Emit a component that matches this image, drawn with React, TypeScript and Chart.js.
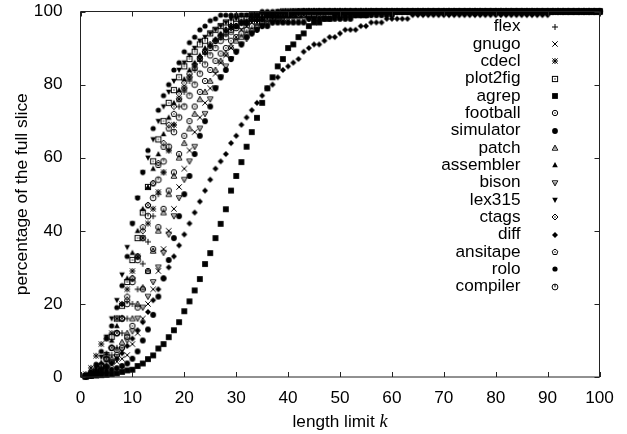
import React, { useEffect, useRef } from "react";
import { Chart, registerables } from "chart.js";

Chart.register(...registerables);

const seriesNames = ["flex", "gnugo", "cdecl", "plot2fig", "agrep", "football", "simulator", "patch", "assembler", "bison", "lex315", "ctags", "diff", "ansitape", "rolo", "compiler"];

const flex = [0.3,0.8,1.6,2.8,4.2,6,8,12,16,20,24,31,37,44,50,56,62,69,74,78,81,84,86.5,88.5,90.5,92,93.5,95,96,96,97,97,98,98,98,99,99,99,99,99,99];
const gnugo = [0.2,0.5,1,1.8,2.6,3.4,4.2,5,6,9,12,16,20,24,29,35,40,46,52,57,62,67,71,75,79,83,86,88,90,93,95,96,97,97,98,98,98,99,99,99,99,99,99];
const cdecl = [0.8,2.5,5.8,9,10.5,12,16,20,24,29,33,38,42,46,50.6,56,62,69,76,79,82,85,87,89,90.5,92,93.3,94.5,95.5,96,97,97,98,98,98,99,99,99,99,99,99];
const plot2fig = [0.2,0.6,1.5,3,6,11,16,19.5,26,32,38,45,52,59,65,70,75,78.5,82,85,87,89,91,92,94,95,96,97,97,98,98,98,99,99,99,99,99,99];
const agrep = [0.2,0.3,0.4,0.5,0.6,0.8,1,1.4,1.8,2,3,3.7,4.9,5.9,7.8,9,10.9,12.8,15,18,20.7,23.7,26.8,30.9,33.9,38,41.9,45.9,51,55,58.8,63,67,70.9,75,79,82,85,87,90,91,93,94,96,97,97,98,98,99,99,99,99,99,99,99];
const football = [0.2,0.5,1,1.8,2.8,4,6,8,11,14,19,24,29,35,41,46,51,56,61,66,70,74,78,81,84,86.5,88.5,90,92,93,94,95,96,97,97,98,98,98,99,99,99,99,99,99,99];
const simulator = [0.1,0.3,0.6,1,1.5,2,2.4,3,3.7,5,7,10,13,17,22,27,32,38,44,50,55,61,66,70,74,79,82,84,87,89,91,93,94,95,96,96,97,97,97,97,97,97,97,98,98,98,98,98,98,98,98,98,99,99,99,99,99,99,99,99];
const patch = [0.2,0.5,1,1.8,3,5,7.5,9.5,12,16,20,24.5,29,34.5,40,45,50,55,60,64,68,72,76,78,81,84,86.5,88.5,90.5,92,93,94,95,96,97,97,98,98,98,99,99,99,99,99,99,99,99];
const assembler = [0.3,0.9,2,4,6.5,10,14,20,27,34,40,46,52,57,61,66.5,71,75,78.5,81.5,84,86,88,90,91,92.5,94,95,96,96,97,97,98,98,98,99,99,99,99,99];
const bison = [0.1,0.4,0.9,1.6,2.6,4,5.5,7.5,10,12.5,16,19,22,26,30,34,39,44,49,54,59,63,68,72,76,79,82,85,87,89,91,92.5,94,95,96,97,97,98,98,98,98,98,98,98,98,99,99,99,99,99,99,99,99,99,99];
const lex315 = [0.3,1,2.5,5.5,11,16,21,28,35.5,42,49,56,60,65,70,74,78,81,84,86,88,90,92,93,94,95,96,97,98,98,99,99,99,99,99,99,99];
const ctags = [0.2,0.7,1.6,3,5,8,12,16,21,27,33,40,47,53,58.5,64,69,74,77.5,80.5,83,85.5,87.5,89,91,92,93.5,95,96,96,97,97,98,98,98,99,99,99,99,99,99];
const diff = [0.3,0.7,1.2,2,2.8,3.8,5,6.5,8.5,10.5,12.8,15,17.8,21,24,27,30,33,36,39,42,45,48,51,54,57,59,61,64,66,69,71,73,75,77,79,80,82,84,85,86,87,89,90,91,91,92,93,93,94,95,95,95,96,96,97,97,97,98,98,98,98,98,99,99,99,99,99,99,99,99,99,99,99,99,99,99,99,99,99,99,99,99,99,99,99,99,99,99,99];
const ansitape = [0.2,0.7,1.5,3,5,8,12,16,22,27,33,41,47,53,58,63,68,72,76,79,82,84.5,87,89,90,92,93,94,95,96,97,97,98,98,99,99,99,99,99,99];
const rolo = [0.5,1.5,3.5,7,10.5,14,19,25,33,42,49,56,62,68,73,77,80,84,86,89,91.5,93,95,96,97.5,98,99,99,99,99,99,99,99,99];
const compiler = [0.3,0.8,1.8,3.2,5,8,12,16,20,26,32,38,44,49,54,59,63,67,71,74,77,80,83,85.5,88,90,92,93,94.5,95.5,96,97,98,98,98,99,99,99,99,99,99,99];

const saturated = [100,100,100,100,100,100,100,100,100,100,100,100,100,100,100,100,100,100,100,100,100,100,100,100,100,100,100,100,100,100,100,100,100,100,100,100,100,100,100,100,100,100,100,100,100,100,100,100,100,100,100,100,100,100,100,100,100,100,100,100,100,100,100,100,100,100,100,100,100,100,100,100,100,100,100,100,100,100,100,100,100,100,100,100,100,100,100,100,100,100,100,100,100,100,100,100,100,100,100,100];

const seriesValues = [flex, gnugo, cdecl, plot2fig, agrep, football, simulator, patch, assembler, bison, lex315, ctags, diff, ansitape, rolo, compiler];
const xTicks = [0, 10, 20, 30, 40, 50, 60, 70, 80, 90, 100];
const yTicks = [0, 20, 40, 60, 80, 100];

const INK = "#000";
const SANS = "'Liberation Sans', Arial, sans-serif";
const TEXT_SIZE = 17.2;

type Draw = (c: CanvasRenderingContext2D) => void;

const poly = (c: CanvasRenderingContext2D, pts: number[][]) => {
  c.beginPath();
  pts.forEach(([x, y], i) => (i ? c.lineTo(x, y) : c.moveTo(x, y)));
  c.closePath();
};
const circle = (c: CanvasRenderingContext2D, r: number) => {
  c.beginPath();
  c.arc(0, 0, r, 0, Math.PI * 2);
};
const tri = [[0, -2.9], [2.8, 2.2], [-2.8, 2.2]];
const triDown = [[0, 2.9], [2.8, -2.2], [-2.8, -2.2]];
const dia = [[0, -3], [3, 0], [0, 3], [-3, 0]];
const pent = [[0, -2.9], [2.8, -0.8], [1.8, 2.5], [-1.8, 2.5], [-2.8, -0.8]];
const dot = (c: CanvasRenderingContext2D) => c.fillRect(-0.6, -0.6, 1.2, 1.2);

const painters: Draw[] = [
  (c) => { c.beginPath(); c.moveTo(-3, 0); c.lineTo(3, 0); c.moveTo(0, -3); c.lineTo(0, 3); c.stroke(); },
  (c) => { c.beginPath(); c.moveTo(-2.7, -2.7); c.lineTo(2.7, 2.7); c.moveTo(-2.7, 2.7); c.lineTo(2.7, -2.7); c.stroke(); },
  (c) => { c.beginPath(); c.moveTo(-2.6, -2.6); c.lineTo(2.6, 2.6); c.moveTo(-2.6, 2.6); c.lineTo(2.6, -2.6); c.moveTo(-3, 0); c.lineTo(3, 0); c.moveTo(0, -3); c.lineTo(0, 3); c.stroke(); },
  (c) => { c.strokeRect(-2.6, -2.6, 5.2, 5.2); dot(c); },
  (c) => { c.fillRect(-2.9, -2.9, 5.8, 5.8); },
  (c) => { circle(c, 2.7); c.stroke(); dot(c); },
  (c) => { circle(c, 2.9); c.fill(); },
  (c) => { poly(c, tri); c.stroke(); dot(c); },
  (c) => { poly(c, tri); c.fill(); },
  (c) => { poly(c, triDown); c.stroke(); dot(c); },
  (c) => { poly(c, triDown); c.fill(); },
  (c) => { poly(c, dia); c.stroke(); dot(c); },
  (c) => { poly(c, dia); c.fill(); },
  (c) => { poly(c, pent); c.stroke(); dot(c); },
  (c) => { circle(c, 2.6); c.fill(); },
  (c) => { circle(c, 2.9); c.stroke(); c.beginPath(); c.moveTo(0, -2.9); c.lineTo(0, 0.3); c.stroke(); },
];

const makeMarker = (paint: Draw) => {
  const cv = document.createElement("canvas");
  cv.width = 10;
  cv.height = 10;
  const c = cv.getContext("2d")!;
  c.translate(5, 5);
  c.fillStyle = INK;
  c.strokeStyle = INK;
  c.lineWidth = 1;
  paint(c);
  return cv;
};

export default function App() {
  const ref = useRef<HTMLCanvasElement>(null);

  useEffect(() => {
    document.body.style.margin = "0";
    const markers = painters.map(makeMarker);

    const frame = {
      id: "frame",
      afterDatasetsDraw(chart: any) {
        const { ctx, chartArea: a, scales } = chart;
        ctx.save();
        ctx.strokeStyle = "#222";
        ctx.lineWidth = 1;
        ctx.beginPath();
        ctx.rect(a.left, a.top, a.right - a.left, a.bottom - a.top);
        xTicks.forEach((t) => {
          const x = Math.round(scales.x.getPixelForValue(t)) + 0.5;
          ctx.moveTo(x, a.bottom);
          ctx.lineTo(x, a.bottom - 5);
          ctx.moveTo(x, a.top);
          ctx.lineTo(x, a.top + 5);
        });
        yTicks.forEach((t) => {
          const y = Math.round(scales.y.getPixelForValue(t)) + 0.5;
          ctx.moveTo(a.left, y);
          ctx.lineTo(a.left + 5, y);
          ctx.moveTo(a.right, y);
          ctx.lineTo(a.right - 5, y);
        });
        ctx.stroke();

        ctx.fillStyle = INK;
        ctx.font = `${TEXT_SIZE}px ${SANS}`;
        ctx.textAlign = "right";
        ctx.textBaseline = "middle";
        seriesNames.forEach((name, i) => {
          const y = 26.5 + i * 17.35;
          ctx.fillText(name, 520.5, y);
          ctx.drawImage(markers[i], 550, Math.round(y) - 5);
        });

        ctx.textAlign = "left";
        ctx.textBaseline = "alphabetic";
        const label = "length limit ";
        const italic = `italic ${TEXT_SIZE + 1}px 'Liberation Serif', serif`;
        ctx.font = `${TEXT_SIZE}px ${SANS}`;
        const w = ctx.measureText(label).width;
        ctx.font = italic;
        const kw = ctx.measureText("k").width;
        const start = 340 - (w + kw) / 2;
        ctx.font = `${TEXT_SIZE}px ${SANS}`;
        ctx.fillText(label, start, 427);
        ctx.font = italic;
        ctx.fillText("k", start + w, 427);
        ctx.restore();
      },
    };

    const chart = new Chart(ref.current!, {
      type: "scatter",
      data: {
        datasets: seriesNames.map((name, i) => ({
          label: name,
          data: saturated.map((full, k) => ({ x: k + 1, y: seriesValues[i][k] ?? full })),
          pointStyle: markers[i],
          pointRadius: 5,
          showLine: false,
          clip: false as any,
        })),
      },
      options: {
        animation: false,
        responsive: false,
        layout: { padding: { top: 11.5, right: 27.5, left: 0, bottom: 0 } },
        plugins: { legend: { display: false }, tooltip: { enabled: false } },
        scales: {
          x: {
            type: "linear",
            min: 0,
            max: 100,
            afterFit: (s: any) => { s.height = 57; s.paddingLeft = 0; s.paddingRight = 0; },
            afterBuildTicks: (s: any) => { s.ticks = xTicks.map((value) => ({ value })); },
            border: { display: false },
            grid: { display: false },
            ticks: { color: INK, font: { family: SANS, size: TEXT_SIZE }, padding: 3, maxRotation: 0, autoSkip: false },
          },
          y: {
            min: 0,
            max: 100,
            afterFit: (s: any) => { s.width = 80.5; s.paddingTop = 0; s.paddingBottom = 0; },
            afterBuildTicks: (s: any) => { s.ticks = yTicks.map((value) => ({ value })); },
            border: { display: false },
            grid: { display: false },
            ticks: { color: INK, font: { family: SANS, size: TEXT_SIZE }, padding: 10, autoSkip: false },
            title: {
              display: true,
              text: "percentage of the full slice",
              color: INK,
              font: { family: SANS, size: 17.4 },
              padding: { top: 12, bottom: 0 },
            },
          },
        },
      },
      plugins: [frame],
    } as any);
    return () => chart.destroy();
  }, []);

  return <canvas ref={ref} width={627} height={434} style={{ display: "block" }} />;
}
